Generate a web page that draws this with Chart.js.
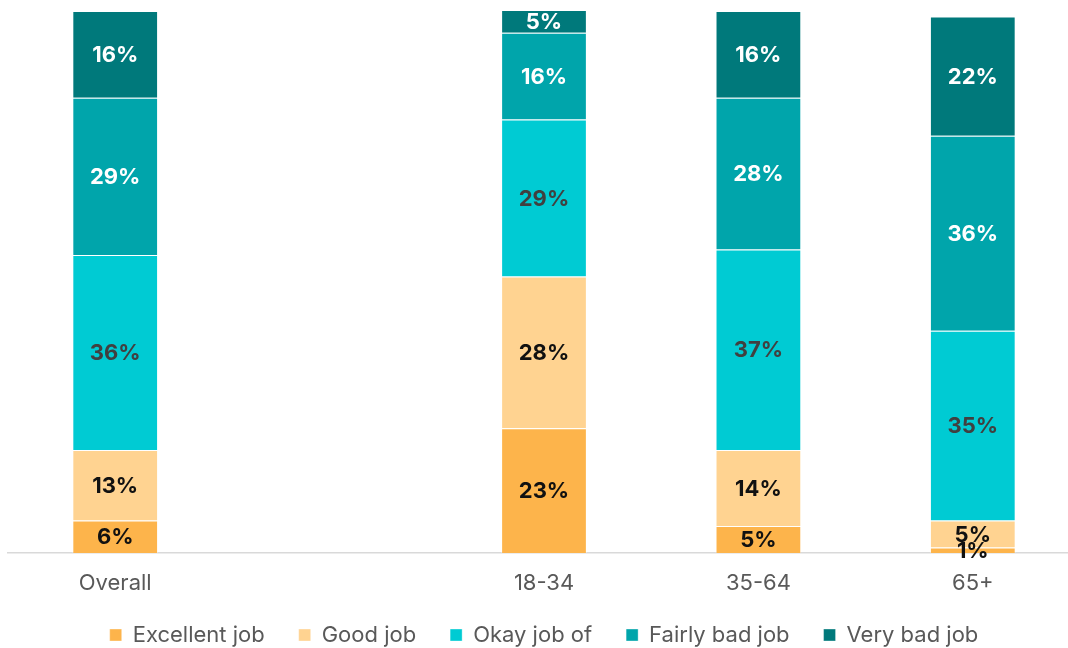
<!DOCTYPE html>
<html>
<head>
<meta charset="utf-8">
<script src="https://cdn.jsdelivr.net/npm/chart.js@4/dist/chart.umd.min.js"></script>
<style>
  html, body { margin: 0; padding: 0; background: #ffffff; overflow: hidden; }
  #wrap { position: relative; width: 1068px; height: 648px; overflow: hidden; }
  #box { position: absolute; left: 0; top: 0; width: 1080px; height: 648px; }
</style>
</head>
<body>
<div id="wrap"><div id="box"><canvas id="chart"></canvas></div></div>
<script>
// Rating of the job done, by age group (percent of respondents)
const categories = ['Overall', '', '18-34', '35-64', '65+'];
const excellentJob = [6, null, 23, 5, 1];
const goodJob      = [13, null, 28, 14, 5];
const okayJob      = [36, null, 29, 37, 35];
const fairlyBadJob = [29, null, 16, 28, 36];
const veryBadJob   = [16, null, 5, 16, 22];

const seriesNames  = ['Excellent job', 'Good job', 'Okay job of', 'Fairly bad job', 'Very bad job'];
const seriesColors = ['#FDB44B', '#FFD391', '#00CBD3', '#00A5AB', '#00797B'];
const labelColors  = ['#111111', '#111111', '#404040', '#ffffff', '#ffffff'];
const seriesValues = [excellentJob, goodJob, okayJob, fairlyBadJob, veryBadJob];

const FONT = 'Inter, "Noto Sans", Roboto, sans-serif';

// Writes each segment's percentage in the middle of its visible part
const segmentLabels = {
  id: 'segmentLabels',
  afterDatasetsDraw(chart) {
    const ctx = chart.ctx;
    const area = chart.chartArea;
    ctx.save();
    ctx.font = 'bold 22px ' + FONT;
    ctx.textAlign = 'center';
    ctx.textBaseline = 'middle';
    chart.data.datasets.forEach((ds, di) => {
      const meta = chart.getDatasetMeta(di);
      meta.data.forEach((bar, i) => {
        const v = ds.data[i];
        if (v === null || v === undefined) return;
        const top = Math.max(Math.min(bar.y, bar.base), area.top);
        const bottom = Math.min(Math.max(bar.y, bar.base), area.bottom);
        ctx.fillStyle = labelColors[di];
        ctx.fillText(v + '%', bar.x, (top + bottom) / 2 + 1);
      });
    });
    ctx.restore();
  }
};

new Chart(document.getElementById('chart'), {
  type: 'bar',
  data: {
    labels: categories,
    datasets: seriesNames.map((name, i) => ({
      label: name,
      data: seriesValues[i],
      backgroundColor: seriesColors[i],
      borderColor: 'rgba(255,255,255,0.35)',
      borderWidth: 1,
      categoryPercentage: 0.4,
      barPercentage: 1.0
    }))
  },
  options: {
    responsive: true,
    maintainAspectRatio: false,
    animation: false,
    layout: { padding: { left: 8, right: 0, top: 11, bottom: 0 } },
    plugins: {
      tooltip: { enabled: false },
      legend: {
        position: 'bottom',
        maxHeight: 58,
        labels: {
          font: { family: FONT, size: 22 },
          color: '#595959',
          boxWidth: 12,
          boxHeight: 12,
          padding: 34
        }
      }
    },
    scales: {
      x: {
        stacked: true,
        grid: { display: false, drawTicks: false },
        border: { display: true, color: '#D9D9D9', width: 1.5 },
        ticks: {
          font: { family: FONT, size: 22 },
          color: '#595959',
          padding: 17
        },
        // keep the axis band compact so the legend sits close below the labels
        afterFit(scale) { scale.height = 37; }
      },
      y: {
        stacked: true,
        display: false,
        min: 0,
        max: 100
      }
    }
  },
  plugins: [segmentLabels]
});
</script>
</body>
</html>
